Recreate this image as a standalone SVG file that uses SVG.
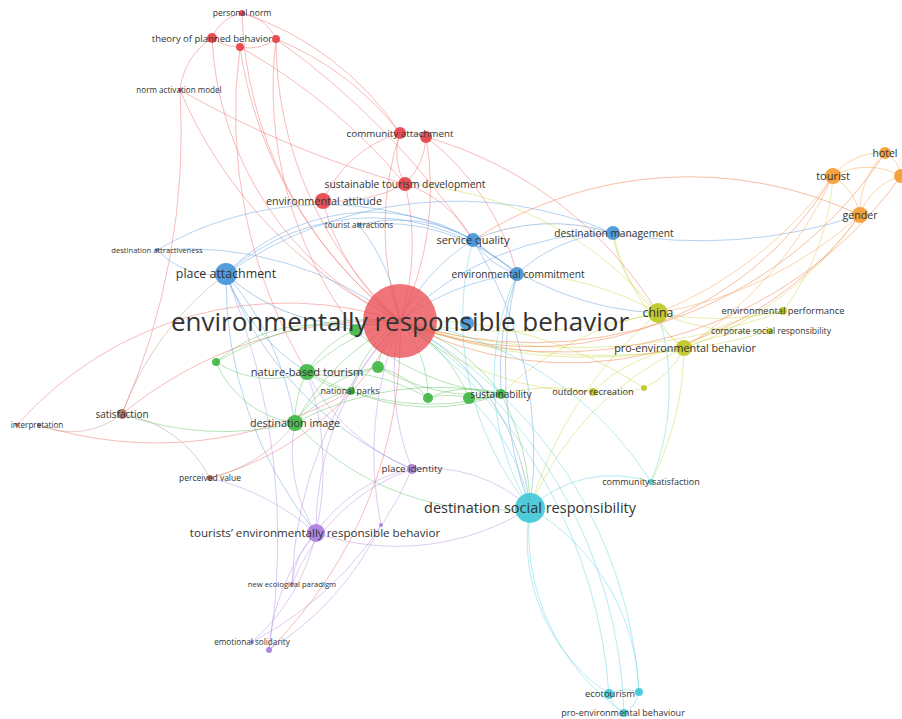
<svg xmlns="http://www.w3.org/2000/svg" width="902" height="719" viewBox="0 0 902 719">
<style>
.e{fill:none;stroke-opacity:.45;stroke-width:1;stroke-linecap:round}
.r{stroke:#ef6b6b}.b{stroke:#5b9ee0}.bg{stroke:#8fb0d4;stroke-opacity:.7}.g{stroke:#5cc45e}.y{stroke:#cdd445}.o{stroke:#f7a24a}.ro{stroke:#f38a5c;stroke-opacity:.55}.p{stroke:#b48fe0}.c{stroke:#5fd0de}.cg{stroke:#b2c4ca;stroke-opacity:.8}.n{stroke:#c49080}
.nr{fill:#e5393f;fill-opacity:.88}.nb{fill:#3d8fd6;fill-opacity:.88}.ng{fill:#38b43d;fill-opacity:.88}.ny{fill:#bcc61f;fill-opacity:.9}.no{fill:#f5992e;fill-opacity:.9}.np{fill:#a679dc;fill-opacity:.88}.nc{fill:#3ec6d6;fill-opacity:.9}.nn{fill:#a86a5a;fill-opacity:.88}
.l{font-family:"Open Sans","Liberation Sans",sans-serif;fill:#333333;text-anchor:middle}
</style>
<rect width="902" height="719" fill="#ffffff"/>
<g id="connectors">
<!-- red -->
<path class="e r" stroke-width="1.2" d="M242 13 A400 400 0 0 0 400 321"/>
<path class="e r" stroke-width="1.5" d="M212 38 A330 330 0 0 0 400 321"/>
<path class="e r" stroke-width="1.2" d="M240 47 A420 420 0 0 0 400 321"/>
<path class="e r" stroke-width="1.2" d="M276 39 A380 380 0 0 0 400 321"/>
<path class="e r" stroke-width="2.5" d="M400 133 A300 300 0 0 0 400 321"/>
<path class="e r" stroke-width="2" d="M426 137 A300 300 0 0 1 400 321"/>
<path class="e r" stroke-width="3" d="M405 184 A250 250 0 0 1 400 321"/>
<path class="e r" stroke-width="3" d="M323 201 A220 220 0 0 0 400 321"/>
<path class="e r" d="M180 90 A450 450 0 0 0 400 321"/>
<path class="e r" d="M242 13 A40 40 0 0 0 212 38"/>
<path class="e r" d="M242 13 A45 45 0 0 1 276 39"/>
<path class="e r" d="M212 38 A45 45 0 0 0 240 47"/>
<path class="e r" d="M240 47 A45 45 0 0 0 276 39"/>
<path class="e r" d="M212 38 A70 70 0 0 0 180 90"/>
<path class="e r" d="M180 90 A700 700 0 0 1 122 414"/>
<path class="e r" d="M180 90 A1000 1000 0 0 0 405 184"/>
<path class="e r" d="M240 47 A600 600 0 0 1 405 184"/>
<path class="e r" d="M276 39 A800 800 0 0 1 473 240"/>
<path class="e r" d="M240 47 A500 500 0 0 0 307 372"/>
<path class="e r" d="M276 39 A400 400 0 0 0 355 330"/>
<path class="e r" d="M242 13 A300 300 0 0 1 400 133"/>
<path class="e r" d="M276 39 A300 300 0 0 1 400 133"/>
<path class="e r" d="M400 133 A60 60 0 0 0 405 184"/>
<path class="e r" d="M400 133 A40 40 0 0 1 426 137"/>
<path class="e r" d="M426 137 A70 70 0 0 1 405 184"/>
<path class="e r" d="M400 133 A120 120 0 0 0 323 201"/>
<path class="e r" d="M405 184 A150 150 0 0 1 323 201"/>
<path class="e r" d="M426 137 A250 250 0 0 1 517 274"/>
<path class="e r" d="M405 184 A120 120 0 0 1 473 240"/>
<path class="e r" d="M426 137 A400 400 0 0 1 658 313"/>
<path class="e r" d="M122 414 A410 410 0 0 1 400 321"/>
<path class="e r" d="M17 425 A360 360 0 0 1 400 321"/>
<path class="e r" d="M39 425 A390 390 0 0 0 351 391"/>
<path class="e r" d="M210 478 A300 300 0 0 0 400 321"/>
<path class="e r" d="M400 321 A442 442 0 0 1 269 650"/>
<!-- blue -->
<path class="e bg" stroke-width="4" d="M226 274 A195 195 0 0 0 400 321"/>
<path class="e b" stroke-width="2.5" d="M473 240 A200 200 0 0 0 400 321"/>
<path class="e b" stroke-width="2" d="M517 274 A250 250 0 0 0 400 321"/>
<path class="e b" stroke-width="1.5" d="M613 233 A300 300 0 0 0 400 321"/>
<path class="e b" d="M359 225 A200 200 0 0 1 400 321"/>
<path class="e b" d="M157 250 A350 350 0 0 1 400 321"/>
<path class="e b" stroke-width="1.2" d="M226 274 A200 200 0 0 1 473 240"/>
<path class="e b" stroke-width="1.2" d="M226 274 A216 216 0 0 1 517 274"/>
<path class="e b" d="M226 274 A400 400 0 0 1 613 233"/>
<path class="e b" d="M226 274 A80 80 0 0 1 157 250"/>
<path class="e b" d="M157 250 A330 330 0 0 1 473 240"/>
<path class="e bg" stroke-width="3" d="M473 240 A200 200 0 0 1 613 233"/>
<path class="e b" d="M473 240 A80 80 0 0 0 517 274"/>
<path class="e b" d="M613 233 A150 150 0 0 0 517 274"/>
<path class="e b" stroke-width="1.2" d="M613 233 A500 500 0 0 0 860 215"/>
<path class="e b" d="M517 274 A400 400 0 0 0 530 508"/>
<path class="e b" d="M473 240 A400 400 0 0 1 530 508"/>
<path class="e b" d="M226 274 A400 400 0 0 0 316 533"/>
<path class="e b" d="M226 274 A350 350 0 0 0 412 469"/>
<path class="e b" d="M226 274 A200 200 0 0 0 307 372"/>
<path class="e b" d="M226 274 A300 300 0 0 1 295 423"/>
<path class="e b" d="M473 240 A300 300 0 0 0 658 313"/>
<path class="e b" d="M517 274 A300 300 0 0 0 501 394"/>
<path class="e b" d="M359 225 A150 150 0 0 1 473 240"/>
<path class="e b" d="M359 225 A200 200 0 0 1 517 274"/>
<!-- brown -->
<path class="e n" d="M122 414 A300 300 0 0 1 226 274"/>
<path class="e n" d="M122 414 A80 80 0 0 1 39 425"/>
<path class="e n" d="M122 414 A120 120 0 0 1 210 478"/>
<path class="e n" d="M210 478 A150 150 0 0 0 295 423"/>
<!-- yellow -->
<path class="e y" stroke-width="3" d="M400 321 A600 600 0 0 0 658 313"/>
<path class="e y" stroke-width="2" d="M400 321 A500 500 0 0 0 684 348"/>
<path class="e y" d="M400 321 A300 300 0 0 0 593 392"/>
<path class="e y" d="M400 321 A600 600 0 0 0 783 311"/>
<path class="e y" d="M400 321 A600 600 0 0 0 770 331"/>
<path class="e y" d="M658 313 A60 60 0 0 0 684 348"/>
<path class="e y" d="M658 313 A300 300 0 0 0 783 311"/>
<path class="e y" d="M658 313 A250 250 0 0 0 770 331"/>
<path class="e y" d="M684 348 A200 200 0 0 1 783 311"/>
<path class="e y" d="M684 348 A200 200 0 0 1 770 331"/>
<path class="e y" d="M783 311 A250 250 0 0 0 833 176"/>
<path class="e y" d="M684 348 A350 350 0 0 0 860 215"/>
<path class="e y" d="M684 348 A300 300 0 0 0 530 508"/>
<path class="e y" d="M684 348 A150 150 0 0 0 593 392"/>
<path class="e y" d="M593 392 A100 100 0 0 0 644 388"/>
<path class="e y" d="M644 388 A80 80 0 0 0 684 348"/>
<path class="e y" d="M593 392 A200 200 0 0 0 501 394"/>
<path class="e y" d="M684 348 A300 300 0 0 1 651 482"/>
<path class="e y" d="M658 313 A300 300 0 0 0 501 394"/>
<path class="e y" d="M644 388 A400 400 0 0 0 400 321"/>
<path class="e y" d="M658 313 A400 400 0 0 0 530 508"/>
<path class="e y" d="M405 184 A350 350 0 0 1 658 313"/>
<path class="e y" d="M613 233 A120 120 0 0 0 658 313"/>
<path class="e y" d="M613 233 A200 200 0 0 0 684 348"/>
<path class="e y" d="M517 274 A300 300 0 0 1 658 313"/>
<!-- orange -->
<path class="e ro" stroke-width="2.5" d="M400 321 A350 350 0 0 0 833 176"/>
<path class="e ro" stroke-width="2.5" d="M400 321 A360 360 0 0 0 860 215"/>
<path class="e ro" stroke-width="1.5" d="M400 321 A420 420 0 0 0 885 153"/>
<path class="e ro" stroke-width="1.5" d="M400 321 A420 420 0 0 0 901 176"/>
<path class="e ro" stroke-width="1.5" d="M473 240 A400 400 0 0 1 860 215"/>
<path class="e o" stroke-width="1.5" d="M833 176 A60 60 0 0 1 885 153"/>
<path class="e o" stroke-width="1.5" d="M833 176 A60 60 0 0 1 860 215"/>
<path class="e o" stroke-width="1.5" d="M833 176 A70 70 0 0 1 901 176"/>
<path class="e o" stroke-width="1.5" d="M885 153 A80 80 0 0 0 860 215"/>
<path class="e o" d="M885 153 A30 30 0 0 1 901 176"/>
<path class="e o" stroke-width="1.5" d="M860 215 A60 60 0 0 1 901 176"/>
<path class="e o" d="M658 313 A400 400 0 0 0 833 176"/>
<path class="e o" d="M658 313 A400 400 0 0 0 860 215"/>
<path class="e o" d="M684 348 A400 400 0 0 0 833 176"/>
<!-- green -->
<path class="e g" stroke-width="2" d="M307 372 A200 200 0 0 1 400 321"/>
<path class="e g" d="M355 330 A60 60 0 0 1 400 321"/>
<path class="e g" d="M378 367 A80 80 0 0 1 400 321"/>
<path class="e g" d="M351 391 A120 120 0 0 1 400 321"/>
<path class="e g" d="M428 398 A120 120 0 0 0 400 321"/>
<path class="e g" d="M469 398 A150 150 0 0 0 400 321"/>
<path class="e g" stroke-width="2" d="M501 394 A200 200 0 0 0 400 321"/>
<path class="e g" stroke-width="1.5" d="M295 423 A250 250 0 0 1 400 321"/>
<path class="e g" stroke-width="1.5" d="M216 362 A300 300 0 0 1 400 321"/>
<path class="e g" stroke-width="2" d="M216 362 A150 150 0 0 1 355 330"/>
<path class="e g" d="M307 372 A100 100 0 0 1 355 330"/>
<path class="e g" d="M307 372 A100 100 0 0 0 378 367"/>
<path class="e g" d="M307 372 A80 80 0 0 0 351 391"/>
<path class="e g" d="M307 372 A100 100 0 0 0 295 423"/>
<path class="e g" d="M307 372 A250 250 0 0 0 501 394"/>
<path class="e g" d="M307 372 A200 200 0 0 1 428 398"/>
<path class="e g" d="M295 423 A120 120 0 0 1 378 367"/>
<path class="e g" d="M295 423 A100 100 0 0 1 351 391"/>
<path class="e g" stroke-width="2" d="M295 423 A275 275 0 0 0 530 508"/>
<path class="e g" d="M295 423 A300 300 0 0 1 501 394"/>
<path class="e g" d="M501 394 A60 60 0 0 1 469 398"/>
<path class="e g" d="M501 394 A100 100 0 0 0 428 398"/>
<path class="e g" d="M428 398 A80 80 0 0 1 469 398"/>
<path class="e g" d="M501 394 A250 250 0 0 1 530 508"/>
<path class="e g" d="M378 367 A200 200 0 0 0 501 394"/>
<path class="e g" d="M216 362 A100 100 0 0 0 307 372"/>
<path class="e g" d="M355 330 A250 250 0 0 0 501 394"/>
<path class="e g" d="M216 362 A100 100 0 0 0 295 423"/>
<path class="e g" d="M351 391 A200 200 0 0 0 501 394"/>
<path class="e g" d="M378 367 A100 100 0 0 1 428 398"/>
<path class="e g" d="M122 414 A300 300 0 0 0 295 423"/>
<!-- purple -->
<path class="e p" stroke-width="1.5" d="M316 533 A300 300 0 0 1 400 321"/>
<path class="e p" d="M412 469 A250 250 0 0 1 400 321"/>
<path class="e p" d="M292 584 A400 400 0 0 1 400 321"/>
<path class="e p" d="M381 525 A350 350 0 0 1 400 321"/>
<path class="e p" d="M316 533 A150 150 0 0 1 412 469"/>
<path class="e p" stroke-width="1.2" d="M316 533 A250 250 0 0 0 530 508"/>
<path class="e p" d="M412 469 A150 150 0 0 1 530 508"/>
<path class="e p" d="M316 533 A80 80 0 0 0 292 584"/>
<path class="e p" d="M316 533 A200 200 0 0 0 269 650"/>
<path class="e p" d="M316 533 A200 200 0 0 1 252 642"/>
<path class="e p" d="M252 642 A350 350 0 0 0 412 469"/>
<path class="e p" d="M269 650 A300 300 0 0 0 381 525"/>
<path class="e p" d="M269 650 A700 700 0 0 0 226 274"/>
<path class="e p" d="M316 533 A150 150 0 0 1 295 423"/>
<path class="e p" d="M316 533 A300 300 0 0 0 307 372"/>
<path class="e p" d="M412 469 A200 200 0 0 1 307 372"/>
<path class="e p" d="M292 584 A200 200 0 0 1 412 469"/>
<path class="e p" d="M210 478 A250 250 0 0 1 316 533"/>
<!-- cyan -->
<path class="e cg" stroke-width="6" d="M400 321 A232 232 0 0 1 530 508"/>
<path class="e c" stroke-width="2" d="M530 508 A185 185 0 0 0 609 694"/>
<path class="e c" stroke-width="1.5" d="M530 508 A220 220 0 0 0 624 713"/>
<path class="e c" d="M530 508 A220 220 0 0 1 639 692"/>
<path class="e c" stroke-width="1.5" d="M530 508 A120 120 0 0 1 651 482"/>
<path class="e c" d="M400 321 A500 500 0 0 1 609 694"/>
<path class="e c" d="M400 321 A450 450 0 0 1 639 692"/>
<path class="e c" d="M400 321 A480 480 0 0 1 624 713"/>
<path class="e c" d="M609 694 A40 40 0 0 1 639 692"/>
<path class="e c" d="M609 694 A30 30 0 0 0 624 713"/>
<path class="e c" d="M639 692 A30 30 0 0 1 624 713"/>
<path class="e c" d="M651 482 A350 350 0 0 0 400 321"/>
<path class="e c" d="M651 482 A250 250 0 0 0 658 313"/>
<path class="e c" d="M530 508 A250 250 0 0 1 517 274"/>
<path class="e c" d="M530 508 A200 200 0 0 0 469 398"/>
<path class="e c" d="M530 508 A300 300 0 0 1 473 240"/>
</g>
<g id="node-personal-norm"><circle class="nr" cx="242" cy="13" r="3"/><text class="l" x="242" y="16" font-size="8.5">personal norm</text></g>
<g id="node-red-240"><circle class="nr" cx="240" cy="47" r="4"/></g>
<g id="node-red-276"><circle class="nr" cx="276" cy="39" r="4"/></g>
<g id="node-theory-of-planned-behavior"><circle class="nr" cx="212" cy="38" r="5"/><text class="l" x="212" y="41.5" font-size="9.5">theory of planned behavior</text></g>
<g id="node-norm-activation-model"><circle class="nr" cx="180" cy="90" r="2"/><text class="l" x="179" y="93" font-size="8.1">norm activation model</text></g>
<g id="node-red-426"><circle class="nr" cx="426" cy="137" r="6"/></g>
<g id="node-community-attachment"><circle class="nr" cx="400" cy="133" r="6"/><text class="l" x="400" y="136.5" font-size="9.8">community attachment</text></g>
<g id="node-sustainable-tourism-development"><circle class="nr" cx="405" cy="184" r="7"/><text class="l" x="405" y="187.5" font-size="10.3">sustainable tourism development</text></g>
<g id="node-environmental-attitude"><circle class="nr" cx="323" cy="201" r="8"/><text class="l" x="324" y="204.8" font-size="10.8">environmental attitude</text></g>
<g id="node-tourist-attractions"><circle class="nb" cx="359" cy="225" r="2"/><text class="l" x="359" y="228" font-size="8.2">tourist attractions</text></g>
<g id="node-service-quality"><circle class="nb" cx="473" cy="240" r="7"/><text class="l" x="473" y="243.8" font-size="11">service quality</text></g>
<g id="node-destination-management"><circle class="nb" cx="613" cy="233" r="7"/><text class="l" x="614" y="236.5" font-size="10.2">destination management</text></g>
<g id="node-environmental-commitment"><circle class="nb" cx="517" cy="274" r="7"/><text class="l" x="518" y="277.5" font-size="10.2">environmental commitment</text></g>
<g id="node-destination-attractiveness"><circle class="nb" cx="157" cy="250" r="2"/><text class="l" x="157" y="252.7" font-size="7.6">destination attractiveness</text></g>
<g id="node-place-attachment"><circle class="nb" cx="226" cy="274" r="11"/><text class="l" x="226" y="278.3" font-size="12.4">place attachment</text></g>
<g id="node-blue-467"><circle class="nb" cx="467" cy="323" r="7"/></g>
<g id="node-china"><circle class="ny" cx="658" cy="313" r="10"/><text class="l" x="658" y="317.3" font-size="12.3">china</text></g>
<g id="node-environmental-performance"><circle class="ny" cx="783" cy="311" r="4"/><text class="l" x="783" y="314.3" font-size="9.4">environmental performance</text></g>
<g id="node-corporate-social-responsibility"><circle class="ny" cx="770" cy="331" r="3"/><text class="l" x="771" y="334" font-size="8.6">corporate social responsibility</text></g>
<g id="node-pro-environmental-behavior"><circle class="ny" cx="684" cy="348" r="8"/><text class="l" x="685" y="351.8" font-size="10.8">pro-environmental behavior</text></g>
<g id="node-yellow-644"><circle class="ny" cx="644" cy="388" r="3"/></g>
<g id="node-outdoor-recreation"><circle class="ny" cx="593" cy="392" r="4"/><text class="l" x="593" y="395.2" font-size="9.2">outdoor recreation</text></g>
<g id="node-tourist"><circle class="no" cx="833" cy="176" r="8"/><text class="l" x="833" y="179.8" font-size="11">tourist</text></g>
<g id="node-orange-901"><circle class="no" cx="901" cy="176" r="7"/></g>
<g id="node-hotel"><circle class="no" cx="885" cy="153" r="6"/><text class="l" x="885" y="156.7" font-size="10.5">hotel</text></g>
<g id="node-gender"><circle class="no" cx="860" cy="215" r="8"/><text class="l" x="860" y="218.7" font-size="10.6">gender</text></g>
<g id="node-green-216"><circle class="ng" cx="216" cy="362" r="4"/></g>
<g id="node-green-355"><circle class="ng" cx="355" cy="330" r="6"/></g>
<g id="node-green-378"><circle class="ng" cx="378" cy="367" r="6"/></g>
<g id="node-nature-based-tourism"><circle class="ng" cx="307" cy="372" r="8"/><text class="l" x="307" y="375.9" font-size="11.1">nature-based tourism</text></g>
<g id="node-national-parks"><circle class="ng" cx="351" cy="391" r="4"/><text class="l" x="350" y="394.1" font-size="8.9">national parks</text></g>
<g id="node-green-428"><circle class="ng" cx="428" cy="398" r="5"/></g>
<g id="node-green-469"><circle class="ng" cx="469" cy="398" r="6"/></g>
<g id="node-sustainability"><circle class="ng" cx="501" cy="394" r="5"/><text class="l" x="501" y="397.5" font-size="10">sustainability</text></g>
<g id="node-destination-image"><circle class="ng" cx="295" cy="423" r="8"/><text class="l" x="295" y="426.8" font-size="10.8">destination image</text></g>
<g id="node-satisfaction"><circle class="nn" cx="122" cy="414" r="5"/><text class="l" x="122" y="417.5" font-size="10">satisfaction</text></g>
<g id="node-interpretation"><circle class="nn" cx="17" cy="425" r="2"/><circle class="nn" cx="39" cy="425" r="2"/><text class="l" x="37" y="427.8" font-size="8.1">interpretation</text></g>
<g id="node-perceived-value"><circle class="nn" cx="210" cy="478" r="3"/><text class="l" x="210" y="481" font-size="8.5">perceived value</text></g>
<g id="node-place-identity"><circle class="np" cx="412" cy="469" r="5"/><text class="l" x="412" y="472.4" font-size="9.8">place identity</text></g>
<g id="node-purple-381"><circle class="np" cx="381" cy="525" r="2"/></g>
<g id="node-tourists-erb"><circle class="np" cx="316" cy="533" r="9"/><text class="l" x="315" y="537" font-size="11.6">tourists’ environmentally responsible behavior</text></g>
<g id="node-new-ecological-paradigm"><circle class="np" cx="292" cy="584" r="2"/><text class="l" x="292" y="586.7" font-size="7.7">new ecological paradigm</text></g>
<g id="node-emotional-solidarity"><circle class="np" cx="252" cy="642" r="2"/><circle class="np" cx="269" cy="650" r="3"/><text class="l" x="252" y="644.9" font-size="8.2">emotional solidarity</text></g>
<g id="node-community-satisfaction"><circle class="nc" cx="651" cy="482" r="3"/><text class="l" x="651" y="485" font-size="9">community satisfaction</text></g>
<g id="node-destination-social-responsibility"><circle class="nc" cx="530" cy="508" r="15"/><text class="l" x="530" y="513" font-size="14.5">destination social responsibility</text></g>
<g id="node-cyan-639"><circle class="nc" cx="639" cy="692" r="4"/></g>
<g id="node-ecotourism"><circle class="nc" cx="609" cy="694" r="5"/><text class="l" x="610" y="697.3" font-size="9.5">ecotourism</text></g>
<g id="node-pro-environmental-behaviour"><circle class="nc" cx="624" cy="713" r="4"/><text class="l" x="623" y="716" font-size="9">pro-environmental behaviour</text></g>
<g id="node-environmentally-responsible-behavior"><circle cx="400" cy="321" r="37" fill="#e9474d" fill-opacity=".75"/><text class="l" x="400" y="331" font-size="26">environmentally responsible behavior</text></g>
</svg>
